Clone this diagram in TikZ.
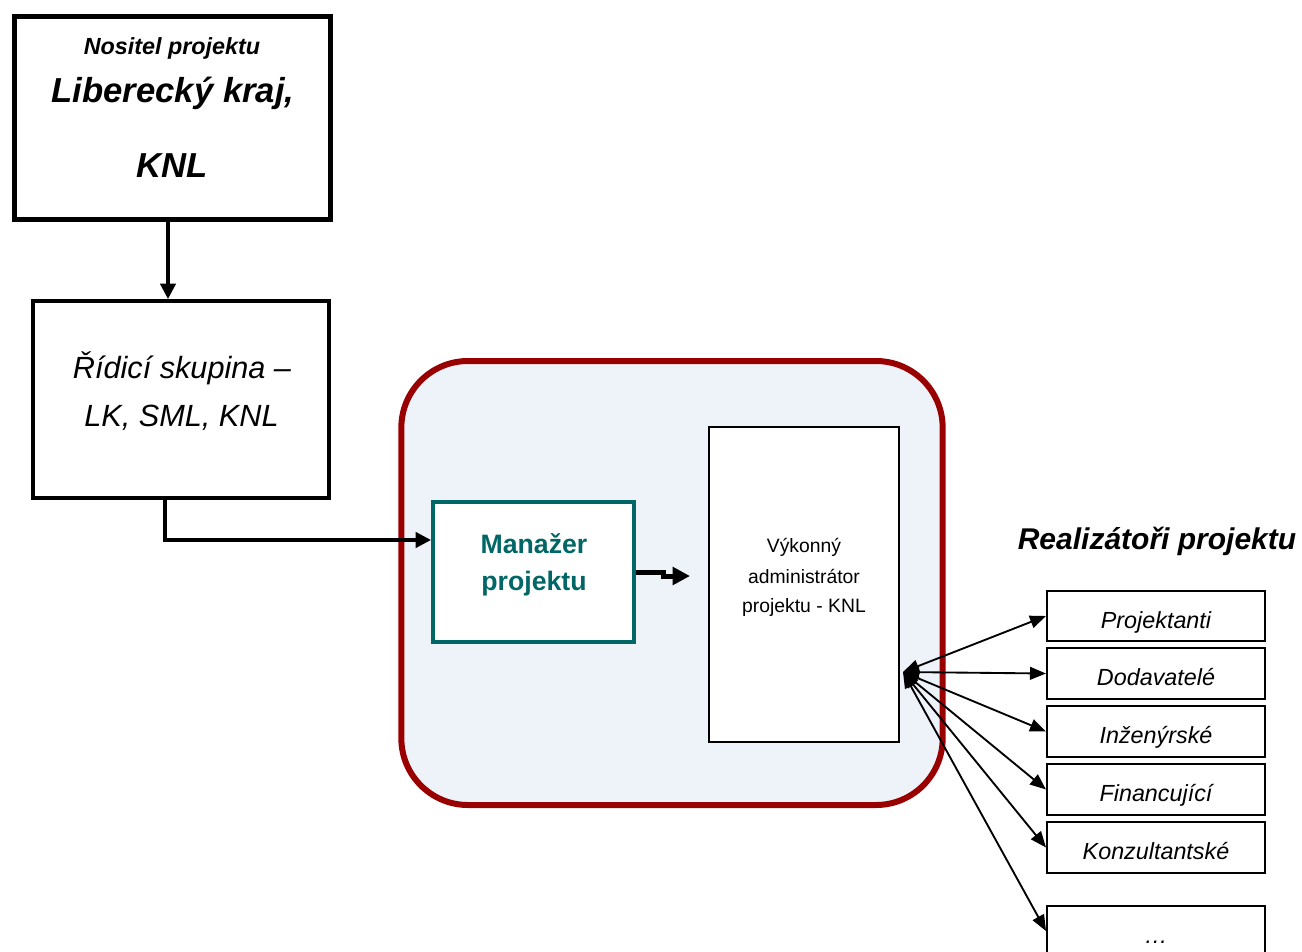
\documentclass[tikz,border=0pt]{standalone}
\usepackage{fontspec}
\setmainfont{Liberation Sans}
\usetikzlibrary{arrows.meta}
\definecolor{teamred}{RGB}{153,0,0}
\definecolor{teamfill}{RGB}{238,243,250}
\definecolor{manteal}{RGB}{0,102,102}

\begin{document}
\begin{tikzpicture}[x=0.75pt,y=-0.75pt,
  box/.style={draw,fill=white,inner sep=0pt},
  line/.style={anchor=base,inner sep=0pt},
  link/.style={-{Triangle[length=11.5pt,width=11.5pt]},line width=2.4pt},
  spoke/.style={{Triangle[length=12pt,width=9.5pt]}-{Triangle[length=12pt,width=9.5pt]},line width=1.4pt},
  firm/.style={box,line width=1.5pt,minimum width=163.5pt,minimum height=38pt,
    text height=18pt,text depth=0pt,font=\fontsize{17.5}{21}\selectfont\itshape}]
\clip (0,0) rectangle (1302,952);

\node[box,line width=3.75pt,minimum width=237pt,minimum height=152pt] (nositel) at (172,118) {};
\node[line,font=\fontsize{17.5}{21}\selectfont\bfseries\itshape] (nositel-1) at (172,55) {Nositel projektu};
\node[line,font=\fontsize{26}{31}\selectfont\bfseries\itshape] (nositel-2) at (173,103) {Liberecký kraj,};
\node[line,font=\fontsize{26}{31}\selectfont\bfseries\itshape] (nositel-3) at (172,178) {KNL};

\node[box,line width=3pt,minimum width=222pt,minimum height=147.75pt] (ridici) at (181,399.5) {};
\node[line,font=\fontsize{23}{28}\selectfont\itshape] (ridici-1) at (182,378) {Řídicí skupina –};
\node[line,font=\fontsize{23}{28}\selectfont\itshape] (ridici-2) at (181.5,426) {LK, SML, KNL};

\node[draw=teamred,fill=teamfill,line width=4.5pt,rounded corners=50pt,
  minimum width=406pt,minimum height=333pt,inner sep=0pt] (team) at (672,583) {};

\node[box,draw=manteal,line width=3pt,minimum width=150.75pt,minimum height=105pt] (manazer) at (533.5,572) {};
\node[line,text=manteal,font=\fontsize{20}{24}\selectfont\bfseries] (manazer-1) at (534,553) {Manažer};
\node[line,text=manteal,font=\fontsize{20}{24}\selectfont\bfseries] (manazer-2) at (534,590) {projektu};

\node[box,line width=1.1pt,minimum width=142.5pt,minimum height=236pt] (admin) at (804,584.5) {};
\node[line,font=\fontsize{14.5}{17}\selectfont] (admin-1) at (804,552) {Výkonný};
\node[line,font=\fontsize{14.5}{17}\selectfont] (admin-2) at (804,583) {administrátor};
\node[line,font=\fontsize{14.5}{17}\selectfont] (admin-3) at (804,612) {projektu - KNL};

\node[line,font=\fontsize{22.5}{27}\selectfont\bfseries\itshape] (realizatori) at (1157,549) {Realizátoři projektu};

\node[firm] (projektanti) at (1156,616) {Projektanti};
\node[firm] (dodavatele) at (1156,673.5) {Dodavatelé};
\node[firm] (inzenyrske) at (1156,731.5) {Inženýrské};
\node[firm] (financujici) at (1156,789.5) {Financující};
\node[firm] (konzultantske) at (1156,847.5) {Konzultantské};
\node[firm] (dalsi) at (1156,931) {\dots};

\coordinate (hub) at (903,672);
\coordinate (admin-in) at (690,576);

\draw[link] (nositel.south -| 168,0) -- (ridici.north -| 168,0);
\draw[link] (ridici.south -| 165,0) |- (manazer.west |- 0,540);
\draw[-{Triangle[length=13pt,width=13pt]},line width=3.75pt] (manazer.east) -- ++(27,0) -- ++(0,4) -- (admin-in);
\foreach \f in {projektanti,dodavatele,inzenyrske,financujici,konzultantske,dalsi}
  \draw[spoke] (hub) -- (\f.west);
\end{tikzpicture}
\end{document}
